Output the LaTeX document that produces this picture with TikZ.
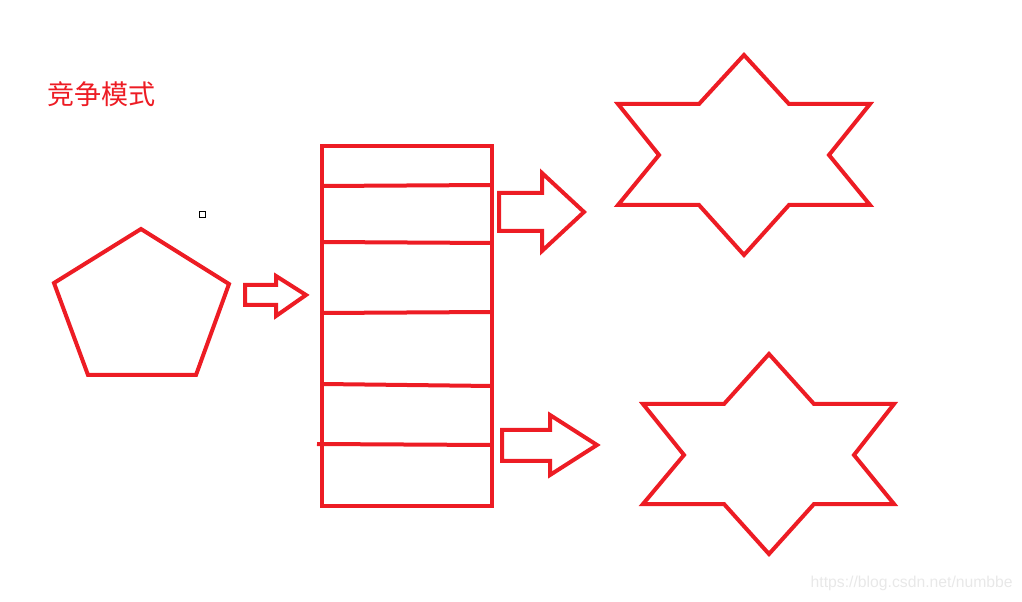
\documentclass[tikz,border=0pt]{standalone}
\usepackage{fontspec}
\setsansfont{Liberation Sans}
\newfontfamily\cjk{Noto Sans CJK SC}
\definecolor{paintred}{HTML}{ED1C24}
\definecolor{markgray}{HTML}{E8E8E8}
\tikzset{
  red_line/.style = {draw=paintred, line width=3pt, line join=miter},
  blk_arrow/.style = {red_line},
  title_txt/.style = {text=paintred, font=\cjk\fontsize{20.3}{24}\selectfont, inner sep=0pt, anchor=west},
  mark_txt/.style = {text=markgray, font=\sffamily\fontsize{11.8}{14}\selectfont, inner sep=0pt, anchor=east}
}

\begin{document}
\begin{tikzpicture}[x=0.75pt, y=-0.75pt]
	\useasboundingbox (0,0) rectangle (1022,602);
	% title
	\node [title_txt] (title) at (47,94) {竞争模式};
	% small cursor box
	\draw [black, line width=0.75pt] (199,212) rectangle (205,218);
	% pentagon
	\draw [red_line] (141,229) -- (229,284) -- (196,375) -- (88,375) -- (54,283) -- cycle;
	% input arrow
	\draw [blk_arrow] (245,285) -- (276,285) -- (276,276) -- (306,295) -- (276,316) -- (276,305) -- (245,305) -- cycle;
	% queue
	\draw [red_line] (322,146) rectangle (492,506);
	\draw [red_line] (322,186) -- (492,185);
	\draw [red_line] (322,242) -- (492,243);
	\draw [red_line] (322,313) -- (492,312);
	\draw [red_line] (322,384) -- (492,386);
	\draw [red_line] (317,444) -- (490,445);
	% output arrows
	\draw [blk_arrow] (499,193) -- (542,193) -- (542,173) -- (584,212) -- (542,251) -- (542,231) -- (499,231) -- cycle;
	\draw [blk_arrow] (502,430) -- (550,430) -- (550,415) -- (597,445) -- (550,475) -- (550,461) -- (502,461) -- cycle;
	% upper star
	\draw [red_line] (744,55) -- (789,104) -- (870,104) -- (829,155) -- (870,205) -- (789,205) -- (744,255)
		-- (699,205) -- (618,205) -- (659,155) -- (618,104) -- (699,104) -- cycle;
	% lower star
	\draw [red_line] (769,354) -- (814,404) -- (894,404) -- (854,455) -- (894,504) -- (814,504) -- (769,554)
		-- (724,504) -- (643,504) -- (684,455) -- (643,404) -- (724,404) -- cycle;
	% watermark
	\node [mark_txt] (watermark) at (1013,583) {https://blog.csdn.net/numbbe};
\end{tikzpicture}
\end{document}
